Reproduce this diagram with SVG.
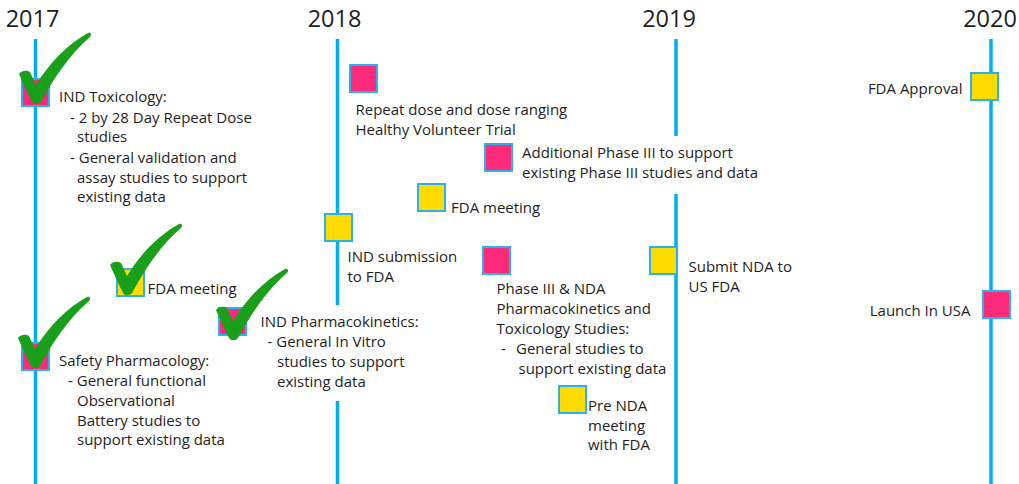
<svg xmlns="http://www.w3.org/2000/svg" xmlns:xlink="http://www.w3.org/1999/xlink" width="1019" height="484" viewBox="0 0 1019 484">
  <style>
    text { font-family: "Open Sans", "Liberation Sans", sans-serif; font-size: 15px; fill: #1e1e1e; }
    .year { font-size: 23.5px; text-anchor: middle; }
    .end { text-anchor: end; }
    .line { stroke: #00aeef; stroke-width: 3.5; fill: none; }
    .task { fill: #ff2a7a; stroke: #29b2ee; stroke-width: 2; }
    .meet { fill: #ffdc00; stroke: #29b2ee; stroke-width: 2; }
    .done { fill: #1a9f1a; }
  </style>
  <defs>
    <!-- brush-style tick, origin at its bottom point -->
    <path id="tick" d="M -17,-28 C -14,-32 -9,-32 -6,-30 L 0,-17 C 14,-40 32,-58 52,-69 C 55,-70 56,-67 54,-65 C 34,-48 18,-24 5,0 C 2,3 -2,3 -4,0 C -9,-10 -13,-19 -17,-28 Z"/>
  </defs>
  <rect width="1019" height="484" fill="#ffffff"/>

  <!-- year headings -->
  <g id="years">
    <text class="year" x="32.5" y="27">2017</text>
    <text class="year" x="334.5" y="27">2018</text>
    <text class="year" x="669" y="27">2019</text>
    <text class="year" x="990" y="27">2020</text>
  </g>

  <!-- year timelines -->
  <g id="connectors">
    <line class="line" x1="35.5" y1="39" x2="35.5" y2="484"/>
    <line class="line" x1="337.5" y1="39" x2="337.5" y2="305"/>
    <line class="line" x1="337.5" y1="401" x2="337.5" y2="484"/>
    <line class="line" x1="676" y1="39" x2="676" y2="136"/>
    <line class="line" x1="676" y1="194" x2="676" y2="484"/>
    <line class="line" x1="991" y1="39" x2="991" y2="484"/>
  </g>

  <g id="ind-toxicology">
    <rect class="task" x="22" y="79" width="27" height="27"/>
    <text x="59" y="102">IND Toxicology:</text>
    <text x="70" y="122.5">- 2 by 28 Day Repeat Dose</text>
    <text x="77" y="142">studies</text>
    <text x="70" y="162.5">- General validation and</text>
    <text x="77" y="182.5">assay studies to support</text>
    <text x="77" y="202">existing data</text>
    <use class="done" xlink:href="#tick" x="36" y="102"/>
  </g>

  <g id="fda-meeting-2017">
    <rect class="meet" x="117" y="269" width="27" height="27"/>
    <text x="147.5" y="294">FDA meeting</text>
    <use class="done" xlink:href="#tick" x="127" y="293"/>
  </g>

  <g id="safety-pharmacology">
    <rect class="task" x="22" y="343" width="27" height="27"/>
    <text x="59" y="366">Safety Pharmacology:</text>
    <text x="68" y="386">- General functional</text>
    <text x="77" y="405.5">Observational</text>
    <text x="77" y="425.5">Battery studies to</text>
    <text x="77" y="445">support existing data</text>
    <use class="done" xlink:href="#tick" x="35" y="366"/>
  </g>

  <g id="ind-pharmacokinetics">
    <rect class="task" x="219" y="308" width="27" height="27"/>
    <text x="260.5" y="327">IND Pharmacokinetics:</text>
    <text x="267.5" y="347">- General In Vitro</text>
    <text x="277" y="367">studies to support</text>
    <text x="277" y="387">existing data</text>
    <use class="done" xlink:href="#tick" x="233" y="338"/>
  </g>

  <g id="healthy-volunteer-trial">
    <rect class="task" x="350" y="65" width="27" height="27"/>
    <text x="355.5" y="115">Repeat dose and dose ranging</text>
    <text x="355.5" y="135">Healthy Volunteer Trial</text>
  </g>

  <g id="ind-submission">
    <rect class="meet" x="325" y="214" width="27" height="27"/>
    <text x="347.5" y="262">IND submission</text>
    <text x="347.5" y="282">to FDA</text>
  </g>

  <g id="fda-meeting-2018">
    <rect class="meet" x="418" y="184" width="27" height="27"/>
    <text x="451" y="213">FDA meeting</text>
  </g>

  <g id="additional-phase-3">
    <rect class="task" x="485" y="144" width="27" height="27"/>
    <text x="522" y="158">Additional Phase III to support</text>
    <text x="522" y="177.5">existing Phase III studies and data</text>
  </g>

  <g id="phase-3-nda-studies">
    <rect class="task" x="483" y="247" width="27" height="27"/>
    <text x="496.5" y="294">Phase III &amp; NDA</text>
    <text x="496.5" y="314">Pharmacokinetics and</text>
    <text x="496.5" y="333.5">Toxicology Studies:</text>
    <text x="501" y="353.5">-</text>
    <text x="516" y="353.5">General studies to</text>
    <text x="518.5" y="373.5">support existing data</text>
  </g>

  <g id="pre-nda-meeting">
    <rect class="meet" x="559" y="386" width="27" height="27"/>
    <text x="588" y="411">Pre NDA</text>
    <text x="588" y="430.5">meeting</text>
    <text x="588" y="450">with FDA</text>
  </g>

  <g id="submit-nda">
    <rect class="meet" x="650" y="247" width="27" height="27"/>
    <text x="688.5" y="272">Submit NDA to</text>
    <text x="688.5" y="292">US FDA</text>
  </g>

  <g id="fda-approval">
    <rect class="meet" x="971" y="73" width="27" height="27"/>
    <text class="end" x="962.5" y="94">FDA Approval</text>
  </g>

  <g id="launch-usa">
    <rect class="task" x="983" y="291" width="27" height="27"/>
    <text class="end" x="970.5" y="316">Launch In USA</text>
  </g>
</svg>
